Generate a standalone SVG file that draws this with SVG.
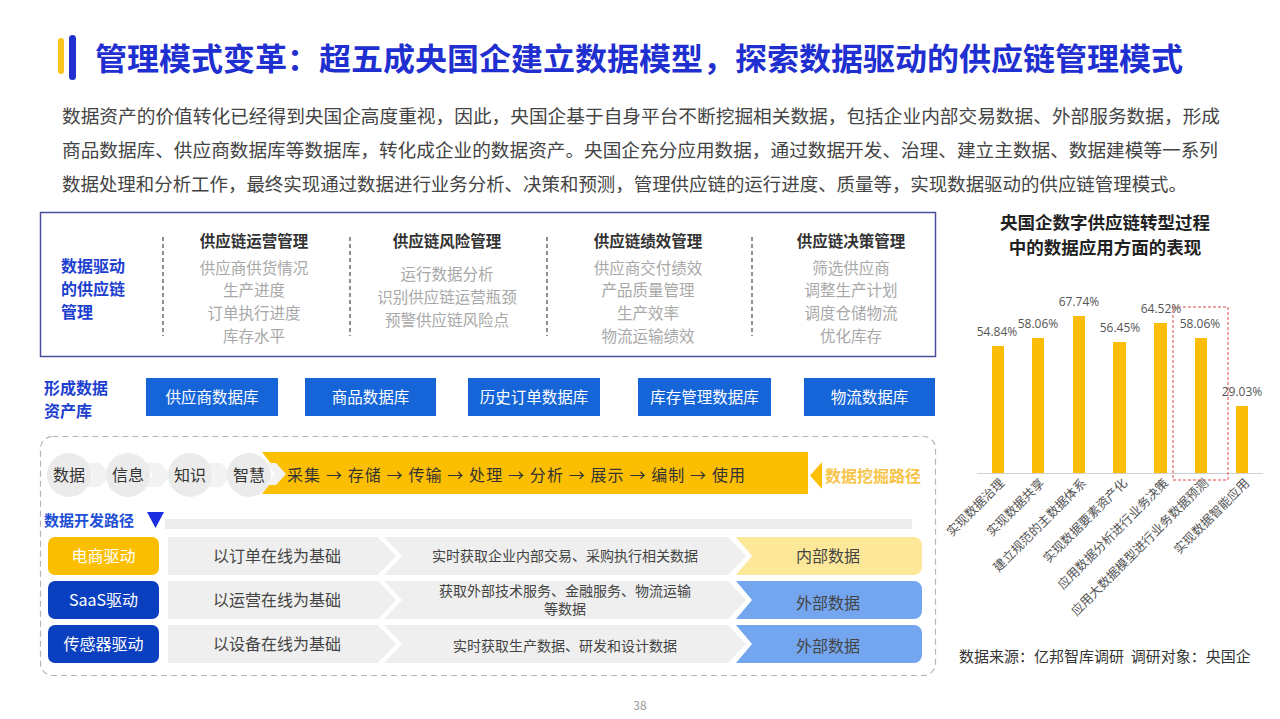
<svg xmlns="http://www.w3.org/2000/svg" width="1280" height="719" viewBox="0 0 1280 719">
<defs>
<style>
text{font-family:"Noto Sans CJK SC","Noto Sans",sans-serif;}
.title{font-size:31px;font-weight:bold;fill:#1f2fd0;}
.para{font-size:18.5px;fill:#444;}
.blue{fill:#1d3fcf;font-weight:bold;font-size:16px;}
.colh{font-size:15.5px;font-weight:bold;fill:#333;text-anchor:middle;}
.item{font-size:15.5px;fill:#a8a8a8;text-anchor:middle;}
.sep{stroke:#555;stroke-width:1.3;stroke-dasharray:4 3;}
.db{fill:#1565d8;}
.dbt{fill:#fff;font-size:15.5px;text-anchor:middle;}
.circ{fill:#ebebeb;}
.ct{font-size:16px;fill:#333;text-anchor:middle;}
.seg{fill:#efefef;}
.st{font-size:16px;fill:#444;text-anchor:middle;}
.st2{font-size:14px;fill:#444;text-anchor:middle;}
.bt{font-size:16px;fill:#fff;text-anchor:middle;}
.bar{fill:#fbbd08;}
.val{font-size:12px;fill:#555;text-anchor:middle;font-family:"Open Sans","Noto Sans",sans-serif;}
.cat{font-size:12.5px;fill:#555;text-anchor:end;}
.ctitle{font-size:17.5px;font-weight:bold;fill:#222;text-anchor:middle;}
</style>
</defs>
<rect width="1280" height="719" fill="#fff"/>

<g id="header">
<rect x="58" y="38" width="6" height="36" rx="3" fill="#f7c31c"/>
<rect x="69" y="35" width="7" height="45" rx="3.5" fill="#1f2fd0"/>
<text class="title" x="95" y="70" textLength="1088" lengthAdjust="spacingAndGlyphs">管理模式变革：超五成央国企建立数据模型，探索数据驱动的供应链管理模式</text>
<text class="para" x="62" y="123" textLength="1158" lengthAdjust="spacingAndGlyphs">数据资产的价值转化已经得到央国企高度重视，因此，央国企基于自身平台不断挖掘相关数据，包括企业内部交易数据、外部服务数据，形成</text>
<text class="para" x="62" y="157" textLength="1156" lengthAdjust="spacingAndGlyphs">商品数据库、供应商数据库等数据库，转化成企业的数据资产。央国企充分应用数据，通过数据开发、治理、建立主数据、数据建模等一系列</text>
<text class="para" x="62" y="191" textLength="1125" lengthAdjust="spacingAndGlyphs">数据处理和分析工作，最终实现通过数据进行业务分析、决策和预测，管理供应链的运行进度、质量等，实现数据驱动的供应链管理模式。</text>
</g>

<g id="mgmt-box">
<rect x="40.5" y="212.5" width="895" height="144" fill="#fff" stroke="#4b4ba0" stroke-width="1.5"/>
<text class="blue" x="61" y="272">数据驱动</text>
<text class="blue" x="61" y="295">的供应链</text>
<text class="blue" x="61" y="318">管理</text>
<line class="sep" x1="163" y1="237" x2="163" y2="336"/>
<line class="sep" x1="350" y1="237" x2="350" y2="336"/>
<line class="sep" x1="547" y1="237" x2="547" y2="336"/>
<line class="sep" x1="752" y1="237" x2="752" y2="336"/>
<text class="colh" x="254" y="247">供应链运营管理</text>
<text class="item" x="254" y="274">供应商供货情况</text>
<text class="item" x="254" y="296">生产进度</text>
<text class="item" x="254" y="319">订单执行进度</text>
<text class="item" x="254" y="342">库存水平</text>
<text class="colh" x="447" y="247">供应链风险管理</text>
<text class="item" x="447" y="280">运行数据分析</text>
<text class="item" x="447" y="303">识别供应链运营瓶颈</text>
<text class="item" x="447" y="326">预警供应链风险点</text>
<text class="colh" x="648" y="247">供应链绩效管理</text>
<text class="item" x="648" y="274">供应商交付绩效</text>
<text class="item" x="648" y="296">产品质量管理</text>
<text class="item" x="648" y="319">生产效率</text>
<text class="item" x="648" y="342">物流运输绩效</text>
<text class="colh" x="851" y="247">供应链决策管理</text>
<text class="item" x="851" y="274">筛选供应商</text>
<text class="item" x="851" y="296">调整生产计划</text>
<text class="item" x="851" y="319">调度仓储物流</text>
<text class="item" x="851" y="342">优化库存</text>
</g>

<g id="databases">
<text class="blue" x="44" y="394">形成数据</text>
<text class="blue" x="44" y="417">资产库</text>
<rect class="db" x="146" y="378" width="132" height="38"/>
<text class="dbt" x="212" y="403">供应商数据库</text>
<rect class="db" x="305" y="378" width="131" height="38"/>
<text class="dbt" x="370.5" y="403">商品数据库</text>
<rect class="db" x="468" y="378" width="132" height="38"/>
<text class="dbt" x="534" y="403">历史订单数据库</text>
<rect class="db" x="638" y="378" width="133" height="38"/>
<text class="dbt" x="704.5" y="403">库存管理数据库</text>
<rect class="db" x="804" y="378" width="131" height="38"/>
<text class="dbt" x="869.5" y="403">物流数据库</text>
</g>

<g id="path-container">
<rect x="40.5" y="436.5" width="895" height="239" rx="12" fill="none" stroke="#b5b5b5" stroke-width="1.2" stroke-dasharray="6 4"/>
</g>

<g id="mining-path">
<polygon points="84,463 100,463 111,475 100,487 84,487 93,475" fill="#f2f2f2"/>
<polygon points="144,463 160,463 171,475 160,487 144,487 153,475" fill="#f2f2f2"/>
<polygon points="205,463 221,463 232,475 221,487 205,487 214,475" fill="#f2f2f2"/>
<polygon points="262,452 808,452 808,494 262,494 278,473" fill="#fcbe00"/>
<circle class="circ" cx="69" cy="475" r="22"/>
<circle class="circ" cx="128" cy="475" r="22"/>
<circle class="circ" cx="190" cy="475" r="22"/>
<circle class="circ" cx="249" cy="475" r="22"/>
<polygon points="266,463 276,463 286,474 276,485 266,485 275,474" fill="#f2f2f2"/>
<text class="ct" x="69" y="481">数据</text>
<text class="ct" x="128" y="481">信息</text>
<text class="ct" x="190" y="481">知识</text>
<text class="ct" x="249" y="481">智慧</text>
<text x="287" y="481" font-size="16" fill="#333" textLength="458" lengthAdjust="spacing">采集 → 存储 → 传输 → 处理 → 分析 → 展示 → 编制 → 使用</text>
<polygon points="822,462 822,489 810,475.5" fill="#fcbe00"/>
<text x="825" y="482" font-size="16" font-weight="bold" fill="#f7c44a">数据挖掘路径</text>
</g>

<g id="dev-path">
<rect x="165" y="519" width="747" height="10" fill="#ececec"/>
<text x="44" y="526" font-size="15" font-weight="bold" fill="#1d4fd6">数据开发路径</text>
<polygon points="147,512 164,512 155.5,528" fill="#1a2fe0"/>
</g>

<g id="row-ecommerce">
<rect x="48" y="537" width="111" height="38" rx="7" fill="#fcbe00"/>
<text class="bt" x="103.5" y="562">电商驱动</text>
<polygon class="seg" points="168,537 378,537 396,556 378,575 168,575"/>
<polygon class="seg" points="384,537 728,537 746,556 728,575 384,575 402,556"/>
<path d="M736,537 H914 a8,8 0 0 1 8,8 V567 a8,8 0 0 1 -8,8 H736 L752,556 Z" fill="#fde89a"/>
<text class="st" x="277" y="562">以订单在线为基础</text>
<text class="st2" x="565" y="561">实时获取企业内部交易、采购执行相关数据</text>
<text class="st" x="828" y="562">内部数据</text>
</g>

<g id="row-saas">
<rect x="48" y="581" width="111" height="38" rx="7" fill="#0a3fbf"/>
<text class="bt" x="103.5" y="606">SaaS驱动</text>
<polygon class="seg" points="168,581 378,581 396,600 378,619 168,619"/>
<polygon class="seg" points="384,581 728,581 746,600 728,619 384,619 402,600"/>
<path d="M736,581 H914 a8,8 0 0 1 8,8 V611 a8,8 0 0 1 -8,8 H736 L752,600 Z" fill="#74a6ef"/>
<text class="st" x="277" y="606">以运营在线为基础</text>
<text class="st2" x="565" y="596">获取外部技术服务、金融服务、物流运输</text>
<text class="st2" x="565" y="614">等数据</text>
<text class="st" x="828" y="609">外部数据</text>
</g>

<g id="row-sensor">
<rect x="48" y="625" width="111" height="38" rx="7" fill="#0a3fbf"/>
<text class="bt" x="103.5" y="650">传感器驱动</text>
<polygon class="seg" points="168,625 378,625 396,644 378,663 168,663"/>
<polygon class="seg" points="384,625 728,625 746,644 728,663 384,663 402,644"/>
<path d="M736,625 H914 a8,8 0 0 1 8,8 V655 a8,8 0 0 1 -8,8 H736 L752,644 Z" fill="#74a6ef"/>
<text class="st" x="277" y="650">以设备在线为基础</text>
<text class="st2" x="565" y="651">实时获取生产数据、研发和设计数据</text>
<text class="st" x="828" y="652">外部数据</text>
</g>

<g id="chart">
<text class="ctitle" x="1105" y="229">央国企数字供应链转型过程</text>
<text class="ctitle" x="1105" y="254">中的数据应用方面的表现</text>
<rect class="bar" x="992" y="346" width="12" height="127"/>
<rect class="bar" x="1032" y="338" width="12" height="135"/>
<rect class="bar" x="1073" y="316" width="12" height="157"/>
<rect class="bar" x="1113" y="342" width="13" height="131"/>
<rect class="bar" x="1154" y="323" width="13" height="150"/>
<rect class="bar" x="1195" y="338" width="12" height="135"/>
<rect class="bar" x="1236" y="406" width="12" height="67"/>
<line x1="977" y1="473.5" x2="1263" y2="473.5" stroke="#d0d0d0" stroke-width="1"/>
<rect x="1173" y="307" width="55" height="173" fill="none" stroke="#e04848" stroke-width="1" stroke-dasharray="3 2"/>
<text class="val" x="997" y="336">54.84%</text>
<text class="val" x="1038" y="328">58.06%</text>
<text class="val" x="1079" y="306">67.74%</text>
<text class="val" x="1120" y="332">56.45%</text>
<text class="val" x="1161" y="313">64.52%</text>
<text class="val" x="1200" y="328">58.06%</text>
<text class="val" x="1242" y="396">29.03%</text>
<text class="cat" transform="translate(1005,484) rotate(-45)">实现数据治理</text>
<text class="cat" transform="translate(1045,484) rotate(-45)">实现数据共享</text>
<text class="cat" transform="translate(1087,484) rotate(-45)">建立规范的主数据体系</text>
<text class="cat" transform="translate(1128,484) rotate(-45)">实现数据要素资产化</text>
<text class="cat" transform="translate(1169,484) rotate(-45)">应用数据分析进行业务决策</text>
<text class="cat" transform="translate(1209,484) rotate(-45)">应用大数据模型进行业务数据预测</text>
<text class="cat" transform="translate(1250,484) rotate(-45)">实现数据智能应用</text>
<text x="959" y="662" font-size="15" fill="#333" xml:space="preserve">数据来源：亿邦智库调研  调研对象：央国企</text>
</g>

<text x="640" y="710" font-size="12" fill="#999" text-anchor="middle" font-family="Liberation Sans, sans-serif">38</text>
</svg>
